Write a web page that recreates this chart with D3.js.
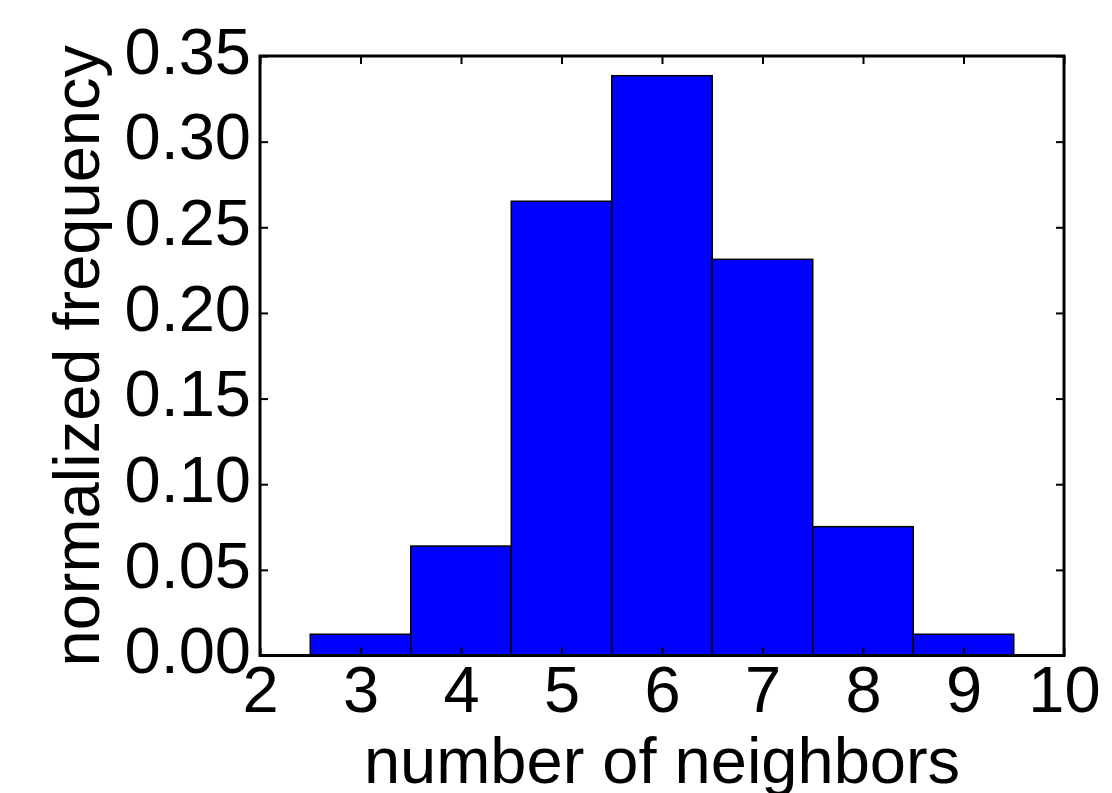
<!DOCTYPE html>
<html>
<head>
<meta charset="utf-8">
<script src="https://cdn.jsdelivr.net/npm/d3@7"></script>
<style>
  html, body { margin: 0; padding: 0; background: #fff; }
  svg { display: block; }
  text { font-family: "Liberation Sans", Arial, Helvetica, sans-serif; fill: #000; }
</style>
</head>
<body>
<script>
// ---- data ----
const binCenters = [3, 4, 5, 6, 7, 8, 9];
const frequencies = [0.0124, 0.0639, 0.2652, 0.3385, 0.2313, 0.0752, 0.0124];
const xTickValues = [2, 3, 4, 5, 6, 7, 8, 9, 10];
const yTickValues = [0, 0.05, 0.10, 0.15, 0.20, 0.25, 0.30, 0.35];
const xLabel = "number of neighbors";
const yLabel = "normalized frequency";

// ---- layout ----
const W = 1112, H = 793;
const plotL = 260, plotT = 56, plotR = 1064, plotB = 655.5;
const fontSize = 65;

const svg = d3.select("body").append("svg").attr("width", W).attr("height", H);

const x = d3.scaleLinear().domain([2, 10]).range([plotL, plotR]);
const y = d3.scaleLinear().domain([0, 0.35]).range([plotB, plotT]);

// bars
svg.append("g").selectAll("rect")
  .data(binCenters.map((c, i) => ({ c, v: frequencies[i] })))
  .join("rect")
  .attr("x", d => x(d.c - 0.5))
  .attr("width", d => x(d.c + 0.5) - x(d.c - 0.5))
  .attr("y", d => y(d.v))
  .attr("height", d => y(0) - y(d.v))
  .attr("fill", "#0000ff")
  .attr("stroke", "#000")
  .attr("stroke-width", 1.5);

const tickLen = 8;
function styleAxis(g) {
  g.select(".domain").remove();
  g.selectAll(".tick line").attr("stroke", "#000").attr("stroke-width", 2);
}

// bottom axis
const gx = svg.append("g").attr("transform", `translate(0,${plotB})`)
  .call(d3.axisBottom(x).tickValues(xTickValues).tickSize(-tickLen).tickFormat(d3.format("d")));
styleAxis(gx);
gx.selectAll(".tick text").attr("y", 56.5).attr("dy", null)
  .attr("font-size", fontSize).attr("fill", "#000").attr("font-family", null);

// top axis (ticks only)
const gxt = svg.append("g").attr("transform", `translate(0,${plotT})`)
  .call(d3.axisTop(x).tickValues(xTickValues).tickSize(-tickLen).tickFormat(""));
styleAxis(gxt);

// left axis
const gy = svg.append("g").attr("transform", `translate(${plotL},0)`)
  .call(d3.axisLeft(y).tickValues(yTickValues).tickSize(-tickLen).tickFormat(d3.format(".2f")));
styleAxis(gy);
gy.selectAll(".tick text").attr("x", -9).attr("dy", 17.3)
  .attr("font-size", fontSize).attr("fill", "#000").attr("font-family", null);

// right axis (ticks only)
const gyr = svg.append("g").attr("transform", `translate(${plotR},0)`)
  .call(d3.axisRight(y).tickValues(yTickValues).tickSize(-tickLen).tickFormat(""));
styleAxis(gyr);

// frame
svg.append("rect")
  .attr("x", plotL).attr("y", plotT)
  .attr("width", plotR - plotL).attr("height", plotB - plotT)
  .attr("fill", "none").attr("stroke", "#000").attr("stroke-width", 3);

// axis labels
svg.append("text")
  .attr("x", (plotL + plotR) / 2).attr("y", 783)
  .attr("text-anchor", "middle").attr("font-size", fontSize)
  .text(xLabel);

svg.append("text")
  .attr("transform", `translate(99,${(plotT + plotB) / 2}) rotate(-90)`)
  .attr("text-anchor", "middle").attr("font-size", fontSize)
  .text(yLabel);
</script>
</body>
</html>
